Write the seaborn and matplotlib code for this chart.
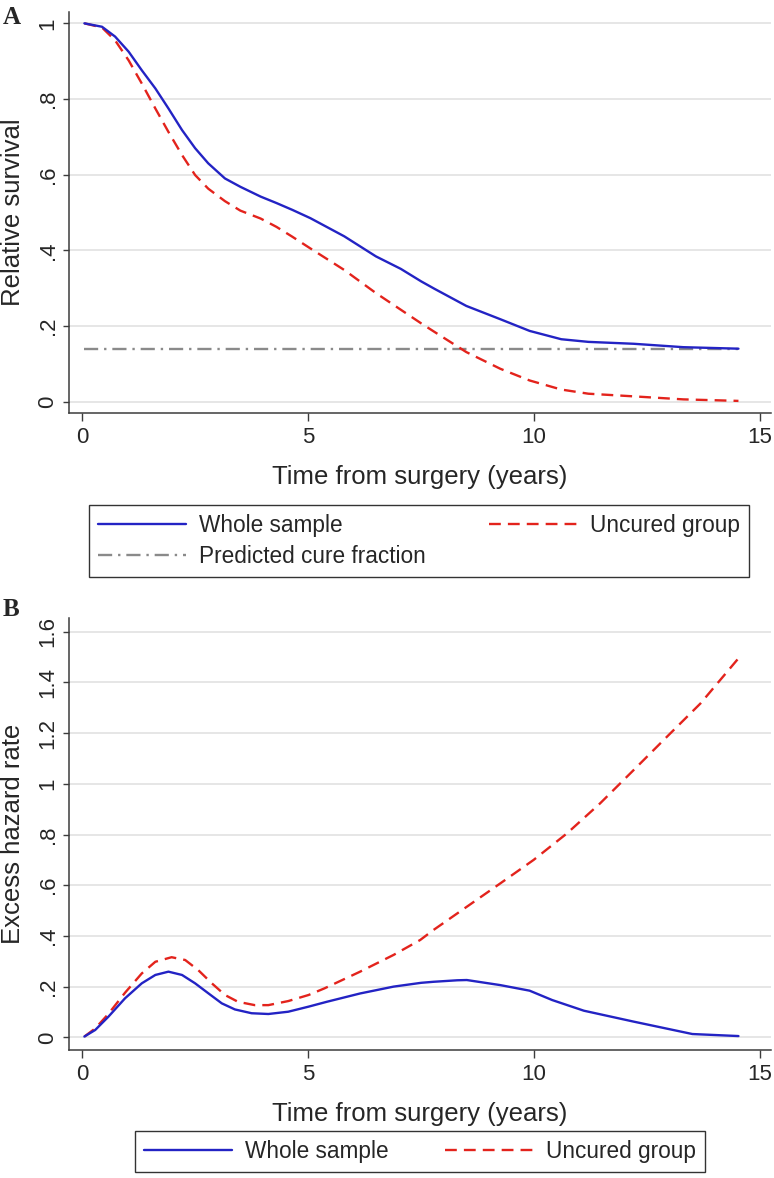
import matplotlib
matplotlib.use("Agg")
import matplotlib.pyplot as plt
import seaborn as sns
from matplotlib.lines import Line2D

# Panel A: relative survival
surv_time = [0.05, 0.44, 0.73, 1.03, 1.32, 1.62, 1.91, 2.21, 2.5, 2.79, 3.16, 3.5, 3.95, 4.3, 4.65,
             5.05, 5.8, 6.5, 7.05, 7.5, 7.8, 8.5, 9.25, 9.9, 10.6, 11.2, 12.2, 13.3, 14.52]
whole_surv = [1.0, 0.991, 0.965, 0.925, 0.876, 0.828, 0.775, 0.718, 0.67, 0.63, 0.59, 0.568, 0.542, 0.525, 0.507,
              0.485, 0.437, 0.384, 0.351, 0.318, 0.298, 0.253, 0.218, 0.187, 0.165, 0.158, 0.153, 0.144, 0.14]
uncured_surv = [1.0, 0.989, 0.955, 0.902, 0.841, 0.775, 0.713, 0.652, 0.599, 0.563, 0.53, 0.505, 0.484, 0.462, 0.436,
                0.405, 0.348, 0.287, 0.243, 0.207, 0.184, 0.131, 0.087, 0.056, 0.032, 0.021, 0.014, 0.006, 0.002]
cure_time = [0.05, 14.52]
cure_frac = [0.14, 0.14]

# Panel B: excess hazard rate
haz_time_whole = [0.05, 0.29, 0.58, 0.95, 1.32, 1.62, 1.91, 2.21, 2.5, 2.79, 3.09, 3.38, 3.75, 4.12, 4.56,
                  5.01, 5.41, 6.15, 6.89, 7.5, 7.77, 8.3, 8.51, 9.25, 9.9, 10.4, 11.1, 12.2, 13.5, 14.52]
whole_haz = [0.003, 0.029, 0.081, 0.154, 0.213, 0.246, 0.259, 0.246, 0.213, 0.174, 0.134, 0.11, 0.095, 0.092, 0.101,
             0.121, 0.14, 0.173, 0.2, 0.215, 0.219, 0.225, 0.226, 0.206, 0.184, 0.147, 0.105, 0.062, 0.013, 0.005]
haz_time_uncured = [0.05, 0.29, 0.58, 0.95, 1.32, 1.62, 1.98, 2.28, 2.57, 2.87, 3.16, 3.45, 3.82, 4.12, 4.56,
                    5.01, 5.36, 6.15, 6.89, 7.48, 7.77, 8.51, 9.25, 9.99, 10.73, 11.46, 12.2, 12.94, 13.68, 14.52]
uncured_haz = [0.003, 0.035, 0.092, 0.176, 0.252, 0.298, 0.316, 0.305, 0.265, 0.213, 0.167, 0.14, 0.127, 0.127, 0.143,
               0.167, 0.193, 0.259, 0.325, 0.384, 0.423, 0.515, 0.607, 0.70, 0.805, 0.923, 1.054, 1.186, 1.317, 1.495]

x_ticks = [0, 5, 10, 15]
surv_ticks = [0, 0.2, 0.4, 0.6, 0.8, 1.0]
surv_labels = ["0", ".2", ".4", ".6", ".8", "1"]
haz_ticks = [0, 0.2, 0.4, 0.6, 0.8, 1.0, 1.2, 1.4, 1.6]
haz_labels = ["0", ".2", ".4", ".6", ".8", "1", "1.2", "1.4", "1.6"]

sns.set_theme(style="white")
plt.rcParams["font.family"] = ["Liberation Sans", "DejaVu Sans"]

BLUE = "#2323c4"
RED = "#e3231c"
GRAY = "#8a8a8a"
DASH = (0, (5, 3))
DASHDOT = (0, (6, 2.5, 1, 2.5))
LW = 1.7

W, H = 774, 1178
fig = plt.figure(figsize=(W / 100, H / 100), dpi=100)


def px_axes(left, top, right, bottom):
    return fig.add_axes([left / W, 1 - bottom / H, (right - left) / W, (bottom - top) / H])


def style_axes(ax, yticks, ylabels, ylim, ylabel):
    ax.set_xlim(-0.29, 15.24)
    ax.set_ylim(*ylim)
    ax.set_xticks(x_ticks)
    ax.set_xticklabels([str(v) for v in x_ticks])
    ax.set_yticks(yticks)
    ax.set_yticklabels(ylabels, rotation=90, va="center")
    ax.yaxis.grid(True, color="#e4e4e4", lw=1.3)
    ax.xaxis.grid(False)
    ax.set_axisbelow(True)
    for s in ["top", "right"]:
        ax.spines[s].set_visible(False)
    for s in ["left", "bottom"]:
        ax.spines[s].set_color("#3c3c3c")
        ax.spines[s].set_linewidth(1.1)
    ax.tick_params(axis="x", bottom=True, direction="out", length=6, width=1,
                   color="#3c3c3c", labelsize=16, pad=4)
    ax.tick_params(axis="y", left=True, direction="out", length=4.5, width=1,
                   color="#3c3c3c", labelsize=16, pad=3)
    ax.set_xlabel("Time from surgery (years)", fontsize=18.5, labelpad=12)
    ax.set_ylabel(ylabel, fontsize=18.5, labelpad=9)


# Panel A
ax1 = px_axes(69, 12, 771, 413)
sns.lineplot(x=cure_time, y=cure_frac, ax=ax1, color=GRAY, lw=LW, linestyle=DASHDOT, legend=False)
sns.lineplot(x=surv_time, y=uncured_surv, ax=ax1, color=RED, lw=LW, linestyle=DASH, legend=False)
sns.lineplot(x=surv_time, y=whole_surv, ax=ax1, color=BLUE, lw=LW, legend=False)
style_axes(ax1, surv_ticks, surv_labels, (-0.03, 1.03), "Relative survival")

# Panel B
ax2 = px_axes(69, 618, 771, 1050)
sns.lineplot(x=haz_time_uncured, y=uncured_haz, ax=ax2, color=RED, lw=LW, linestyle=DASH, legend=False)
sns.lineplot(x=haz_time_whole, y=whole_haz, ax=ax2, color=BLUE, lw=LW, legend=False)
style_axes(ax2, haz_ticks, haz_labels, (-0.05, 1.654), "Excess hazard rate")

h_whole = Line2D([], [], color=BLUE, lw=LW)
h_uncured = Line2D([], [], color=RED, lw=LW, linestyle=DASH)
h_cure = Line2D([], [], color=GRAY, lw=LW, linestyle=DASHDOT)

leg_kw = dict(loc="upper left", mode="expand", ncol=2, fontsize=16.3, frameon=True,
              fancybox=False, edgecolor="black", handlelength=3.9, handletextpad=0.58,
              borderaxespad=0, labelspacing=0.35, borderpad=0.4)
legA = fig.legend([h_whole, h_cure, h_uncured],
                  ["Whole sample", "Predicted cure fraction", "Uncured group"],
                  bbox_to_anchor=(89 / W, 1 - 505 / H, 660 / W, 0), **leg_kw)
legA.get_frame().set_linewidth(1.0)
legB = fig.legend([h_whole, h_uncured], ["Whole sample", "Uncured group"],
                  bbox_to_anchor=(135 / W, 1 - 1131 / H, 570 / W, 0), **leg_kw)
legB.get_frame().set_linewidth(1.0)

fig.text(3 / W, 1 - 24 / H, "A", fontsize=18, fontweight="bold", family="Liberation Serif")
fig.text(3 / W, 1 - 616 / H, "B", fontsize=18, fontweight="bold", family="Liberation Serif")

fig.savefig("out.png", dpi=100)
